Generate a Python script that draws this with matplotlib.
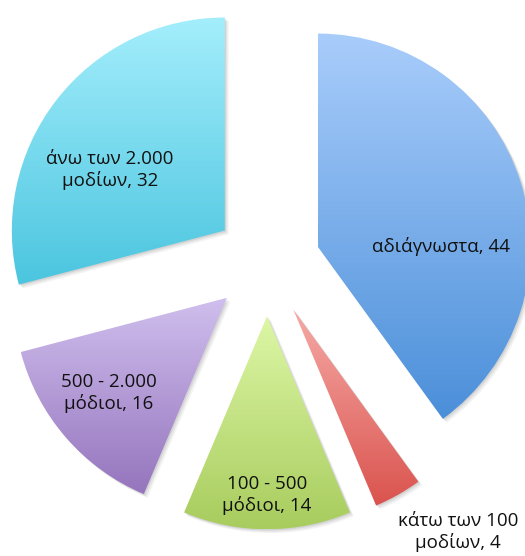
import numpy as np
import matplotlib.pyplot as plt
from matplotlib.patches import Wedge
from matplotlib.colors import LinearSegmentedColormap

plt.rcParams['font.family'] = ['Open Sans', 'DejaVu Sans']

# data
labels = ['αδιάγνωστα', 'κάτω των 100\nμοδίων', '100 - 500\nμόδιοι',
          '500 - 2.000\nμόδιοι', 'άνω των 2.000\nμοδίων']
values = [44, 4, 14, 16, 32]

# gradient colours (top -> bottom) per slice
top_colors = ['#a9cdfb', '#f6aaa6', '#ddf7a6', '#d0bfee', '#a4eefc']
bottom_colors = ['#4b8fd9', '#da534e', '#a8cc5e', '#9575bd', '#4bc5df']

# label placement: distance from slice apex, angular shift (deg, counter-clockwise)
label_r = [0.58, 1.30, 0.84, 0.71, 0.61]
label_shift = [-18, 7, 0, -2, 10]

fig = plt.figure(figsize=(5.25, 5.56), dpi=100)
ax = fig.add_axes([0, 0, 1, 1])

wedges, _ = ax.pie(values, startangle=90, counterclock=False,
                   explode=[0.25] * len(values), radius=1)

grad = np.linspace(0, 1, 256).reshape(-1, 1)
for i, w in enumerate(wedges):
    w.set_facecolor('none')
    w.set_edgecolor('none')

    # soft shadow
    for k, a in enumerate([0.10, 0.08, 0.06]):
        off = 0.006 * (k + 1)
        sh = Wedge((w.center[0] + off, w.center[1] - off), w.r, w.theta1, w.theta2,
                   facecolor='#404040', edgecolor='none', alpha=a, zorder=0)
        ax.add_patch(sh)

    verts = w.get_path().vertices
    x0, y0 = verts.min(axis=0)
    x1, y1 = verts.max(axis=0)
    cmap = LinearSegmentedColormap.from_list('g%d' % i, [top_colors[i], bottom_colors[i]])
    im = ax.imshow(grad, cmap=cmap, extent=[x0, x1, y0, y1], origin='upper',
                   aspect='auto', zorder=1, interpolation='bilinear')
    im.set_clip_path(w)

    mid = np.deg2rad((w.theta1 + w.theta2) / 2 + label_shift[i])
    tx = w.center[0] + label_r[i] * np.cos(mid)
    ty = w.center[1] + label_r[i] * np.sin(mid)
    ax.text(tx, ty, '%s, %d' % (labels[i], values[i]), ha='center', va='center',
            fontsize=13.5, color='#111111', linespacing=1.2, zorder=3)

ax.set_xlim(-267 / 213, 258 / 213)
ax.set_ylim(-293 / 213, 263 / 213)
ax.set_aspect('equal')
ax.axis('off')

plt.savefig('out.png', dpi=100)
